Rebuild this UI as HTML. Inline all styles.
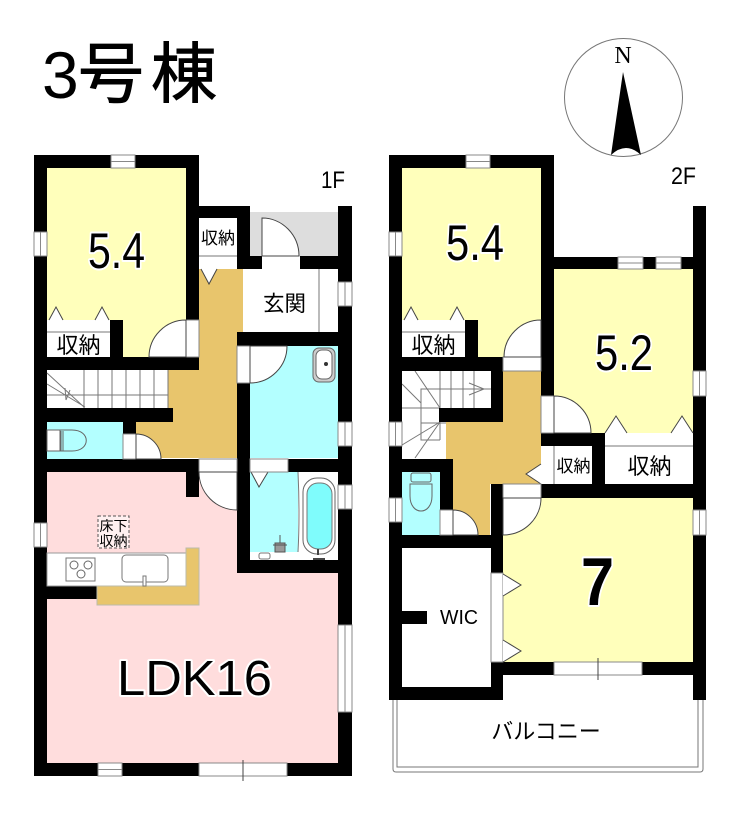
<!DOCTYPE html>
<html><head><meta charset="utf-8"><style>
html,body{margin:0;padding:0;background:#fff}
svg{display:block;filter:blur(.35px)}
.s{font-family:"Liberation Sans",sans-serif;fill:#000}
.j{font-family:"Liberation Sans","Noto Sans CJK JP",sans-serif;fill:#000}
.b{stroke:#000;stroke-width:.9}
.h{stroke:#fff;stroke-width:4;paint-order:stroke;stroke-linejoin:round}
.l{stroke:#777;stroke-width:1;fill:none}
.d{stroke:#444;stroke-width:1;fill:#fff}
.w{fill:#fff;stroke:#888;stroke-width:1}
</style></head><body>
<svg width="740" height="817" viewBox="0 0 740 817" xmlns="http://www.w3.org/2000/svg">
<rect width="740" height="817" fill="#fff"/>

<!-- title -->
<text class="s" x="42" y="98" font-size="66">3</text>
<text class="j b" x="78" y="97" font-size="66">号</text>
<text class="j b" x="151" y="97" font-size="66">棟</text>

<!-- compass -->
<circle cx="623.5" cy="97.5" r="59" fill="#fff" stroke="#777" stroke-width="1"/>
<text x="623" y="63" font-size="24" text-anchor="middle" font-family="Liberation Serif,serif">N</text>
<path d="M623 72L641 155Q626 141 611 155Z" fill="#000"/>

<!-- ===== 1F fills ===== -->
<rect x="47" y="168" width="139" height="189" fill="#ffffbb"/>
<rect x="250" y="212" width="88" height="44" fill="#ddd"/>
<path d="M199 269H243V346H237V458H136V422H168V370H199Z" fill="#e8c56c"/>
<rect x="250" y="346" width="88" height="112" fill="#b3ffff"/>
<rect x="47" y="422" width="76" height="37" fill="#b3ffff"/>
<path d="M47 472H338V763H47Z" fill="#ffdddd"/>
<rect x="250" y="472" width="48" height="80" fill="#b3ffff"/>
<rect x="298" y="472" width="40" height="88" fill="#fff"/>
<rect x="250" y="552" width="48" height="8" fill="#fff"/>

<!-- 1F bathtub -->
<rect x="303" y="478" width="32" height="76" rx="14" fill="#fff" stroke="#666"/>
<rect x="307" y="483" width="25" height="66" rx="11" fill="#7ffcfc" stroke="#777"/>
<path d="M275 543h10v9h-10zM273 545h14M280 535v8" stroke="#555" fill="#999"/>
<rect x="259" y="553" width="11" height="6" rx="2" fill="#fff" stroke="#777"/>
<path d="M318 549v6M313 559h12" stroke="#444" stroke-width="2"/>
<path d="M251 472L259 487L268 472" class="d"/>
<path d="M298 472Q300 515 298 552" class="l"/>

<!-- ===== 1F walls ===== -->
<g fill="#000">
<rect x="34" y="155" width="13" height="621"/>
<rect x="34" y="155" width="165" height="13"/>
<rect x="186" y="155" width="13" height="165"/>
<rect x="199" y="206" width="51" height="12"/>
<rect x="237" y="206" width="13" height="62"/>
<rect x="237" y="256" width="25" height="13"/>
<rect x="300" y="256" width="52" height="13"/>
<rect x="338" y="206" width="14" height="570"/>
<rect x="237" y="332" width="101" height="14"/>
<rect x="237" y="383" width="13" height="190"/>
<rect x="237" y="560" width="101" height="13"/>
<rect x="47" y="357" width="152" height="13"/>
<rect x="110" y="320" width="13" height="37"/>
<rect x="47" y="408" width="126" height="14"/>
<rect x="123" y="422" width="13" height="12"/>
<rect x="47" y="459" width="152" height="13"/>
<rect x="186" y="472" width="13" height="25"/>
<rect x="288" y="459" width="50" height="13"/>
<rect x="47" y="586" width="50" height="13"/>
<rect x="34" y="763" width="318" height="13"/>
</g>

<!-- 1F white rooms -->
<rect x="199" y="218" width="38" height="50" fill="#fff"/>
<line x1="199" y1="256" x2="237" y2="256" class="l"/>
<path d="M201 269L209 284L217 269" class="d"/>
<rect x="243" y="269" width="95" height="63" fill="#fff"/>
<line x1="319" y1="269" x2="319" y2="332" class="l"/>
<rect x="47" y="320" width="63" height="37" fill="#fff"/>
<line x1="47" y1="332" x2="110" y2="332" class="l"/>
<path d="M49 320L56 307L63 320M95 320L102 307L109 320" class="d"/>
<rect x="186" y="320" width="13" height="37" class="w"/>
<path d="M186 320A37 37 0 0 0 149 357H186Z" class="d"/>
<rect x="262" y="256" width="38" height="13" fill="#fff"/>
<path d="M262 218A37 38 0 0 1 299 256H262Z" class="d"/>
<rect x="237" y="346" width="13" height="37" class="w"/>
<path d="M250 346H287A37 37 0 0 1 250 383Z" class="d"/>
<rect x="123" y="434" width="13" height="25" class="w"/>
<path d="M136 434A25 25 0 0 1 161 459H136Z" class="d"/>
<rect x="199" y="459" width="38" height="13" class="w"/>
<path d="M199 472H237V510A38 38 0 0 1 199 472Z" class="d"/>
<rect x="250" y="459" width="38" height="13" class="w"/>

<!-- 1F stairs -->
<rect x="47" y="370" width="121" height="38" fill="#fff"/>
<g class="l">
<path d="M84 370V408M98 370V408M112 370V408M126 370V408M140 370V408M154 370V408M168 370V408"/>
<path d="M47 384L85 407M47 373L84 407M47 395H84M84 395H168M65 388L66 400L70 390"/>
</g>
<!-- 1F sink, toilet -->
<rect x="313" y="348" width="22" height="34" rx="6" fill="#ccc" stroke="#666"/>
<rect x="316" y="350" width="16" height="29" rx="6" fill="#fff" stroke="#666"/>
<circle cx="326" cy="364" r="2" fill="#333"/>
<path d="M47 430H60V451H47Z" fill="#fff" stroke="#666"/>
<path d="M60 430H72C91 430 91 451 72 451H60Z" fill="#b3ffff" stroke="#666"/>
<path d="M61 431V451M63 431V451" stroke="#666"/>

<!-- 1F kitchen -->
<rect x="47" y="553" width="139" height="33" fill="#fff" stroke="#999"/>
<path d="M186 548H199V605H97V586H186Z" fill="#e8c56c" stroke="#bba"/>
<rect x="66" y="558" width="29" height="23" fill="#fff" stroke="#777"/>
<circle cx="74" cy="565" r="4" fill="#fff" stroke="#666"/>
<circle cx="88" cy="565" r="4" fill="#fff" stroke="#666"/>
<circle cx="81" cy="574" r="4" fill="#fff" stroke="#666"/>
<rect x="122" y="555" width="46" height="27" rx="4" fill="#fff" stroke="#777"/>
<rect x="143" y="576" width="3" height="10" fill="#fff" stroke="#777"/>
<rect x="98" y="516" width="31" height="32" fill="#fff" fill-opacity=".55" stroke="#555" stroke-dasharray="3 2"/>
<text class="j" x="113.500" y="531" font-size="14" text-anchor="middle">床下</text>
<text class="j" x="113.500" y="546" font-size="14" text-anchor="middle">収納</text>

<!-- 1F windows -->
<g class="w">
<rect x="111" y="155" width="24" height="13"/><line x1="111" y1="161.500" x2="135" y2="161.500"/>
<rect x="34" y="232" width="13" height="24"/><line x1="40.500" y1="232" x2="40.500" y2="256"/>
<rect x="34" y="523" width="13" height="24"/><line x1="40.500" y1="523" x2="40.500" y2="547"/>
<rect x="338" y="282" width="14" height="24"/><line x1="345" y1="282" x2="345" y2="306"/>
<rect x="338" y="422" width="14" height="24"/><line x1="345" y1="422" x2="345" y2="446"/>
<rect x="338" y="485" width="14" height="24"/><line x1="345" y1="485" x2="345" y2="509"/>
<rect x="338" y="625" width="14" height="87"/><line x1="345" y1="625" x2="345" y2="712"/>
<rect x="98" y="763" width="24" height="13"/><line x1="98" y1="769.500" x2="122" y2="769.500"/>
<rect x="199" y="763" width="88" height="13"/><line x1="243" y1="760" x2="243" y2="781" stroke="#444"/>
</g>

<!-- 1F labels -->
<text class="s h" x="88" y="268" font-size="50" textLength="57" lengthAdjust="spacingAndGlyphs">5.4</text>
<text class="s h" x="117" y="695" font-size="49" textLength="155" lengthAdjust="spacingAndGlyphs">LDK16</text>
<text class="s" x="321" y="188" font-size="24" textLength="24" lengthAdjust="spacingAndGlyphs">1F</text>
<text class="j" x="284.500" y="311" font-size="21.500" text-anchor="middle">玄関</text>
<text class="j" x="218" y="244" font-size="17" text-anchor="middle">収納</text>
<text class="j" x="78.500" y="353" font-size="22" text-anchor="middle">収納</text>

<!-- ===== 2F fills ===== -->
<rect x="402" y="168" width="139" height="189" fill="#ffffbb"/>
<rect x="554" y="269" width="139" height="164" fill="#ffffbb"/>
<rect x="503" y="498" width="190" height="164" fill="#ffffbb"/>
<path d="M503 371H541V484H490V535H453V459H446V422H503Z" fill="#e8c56c"/>
<rect x="402" y="472" width="38" height="63" fill="#b3ffff"/>
<rect x="402" y="548" width="89" height="139" fill="#fff"/>

<!-- balcony -->
<path d="M393 700V769Q393 772 396 772H700Q703 772 703 769V700" fill="none" stroke="#777"/>
<path d="M397 700V767H698V700" fill="none" stroke="#777"/>

<!-- 2F stairs -->
<path d="M402 371H491V408H446V459H402Z" fill="#fff"/>
<g class="l">
<path d="M440 371V408M451 371V408M463 371V408M474 371V408M491 389H421V440H440"/>
<path d="M415 371L440 408M402 384L421 403M402 408H440M421 423H446M402 445L440 422M415 458L440 422M440 408V440"/>
<path d="M469 383L484 389L469 395"/>
</g>

<!-- ===== 2F walls ===== -->
<g fill="#000">
<rect x="389" y="155" width="13" height="545"/>
<rect x="389" y="155" width="165" height="13"/>
<rect x="541" y="155" width="13" height="241"/>
<rect x="554" y="257" width="139" height="12"/>
<rect x="693" y="206" width="13" height="494"/>
<rect x="465" y="320" width="13" height="37"/>
<rect x="402" y="357" width="101" height="14"/>
<rect x="491" y="357" width="12" height="65"/>
<rect x="439" y="408" width="64" height="14"/>
<rect x="541" y="433" width="64" height="13"/>
<rect x="592" y="433" width="13" height="51"/>
<rect x="402" y="459" width="51" height="13"/>
<rect x="440" y="459" width="13" height="51"/>
<rect x="402" y="535" width="101" height="13"/>
<rect x="491" y="484" width="12" height="89"/>
<rect x="541" y="484" width="165" height="14"/>
<rect x="491" y="662" width="215" height="13"/>
<rect x="491" y="662" width="12" height="38"/>
<rect x="389" y="687" width="114" height="13"/>
<rect x="402" y="611" width="25" height="13"/>
</g>

<!-- 2F white -->
<rect x="402" y="320" width="63" height="37" fill="#fff"/>
<line x1="402" y1="332" x2="465" y2="332" class="l"/>
<path d="M404 320L411 307L418 320M450 320L457 307L464 320" class="d"/>
<rect x="503" y="357" width="38" height="14" class="w"/>
<path d="M541 320A37 37 0 0 0 504 357H541Z" class="d"/>
<rect x="541" y="396" width="13" height="37" class="w"/>
<path d="M554 396A37 37 0 0 1 591 433H554Z" class="d"/>
<rect x="605" y="433" width="88" height="51" fill="#fff"/>
<line x1="605" y1="446" x2="693" y2="446" class="l"/>
<path d="M605 433L616 416L627 433M671 433L682 416L693 433" class="d"/>
<rect x="541" y="446" width="51" height="38" fill="#fff"/>
<line x1="554" y1="446" x2="554" y2="484" class="l"/>
<path d="M541 464L526 474L541 484" class="d"/>
<rect x="503" y="484" width="38" height="14" class="w"/>
<path d="M503 498H541A38 37 0 0 1 503 535Z" class="d"/>
<rect x="440" y="510" width="13" height="25" class="w"/>
<path d="M453 510A25 25 0 0 1 478 535H453Z" class="d"/>
<rect x="491" y="573" width="12" height="89" class="w"/>
<path d="M503 574L521 585L503 596M503 640L521 651L503 662" class="d"/>

<!-- 2F toilet -->
<rect x="411" y="473" width="20" height="9" rx="2" fill="#b3ffff" stroke="#666"/>
<path d="M410 484H432V496C432 516 410 516 410 496Z" fill="#b3ffff" stroke="#666"/>

<!-- 2F windows -->
<g class="w">
<rect x="466" y="155" width="24" height="13"/><line x1="466" y1="161.500" x2="490" y2="161.500"/>
<rect x="389" y="232" width="13" height="24"/><line x1="395.500" y1="232" x2="395.500" y2="256"/>
<rect x="389" y="422" width="13" height="24"/><line x1="395.500" y1="422" x2="395.500" y2="446"/>
<rect x="389" y="498" width="13" height="24"/><line x1="395.500" y1="498" x2="395.500" y2="522"/>
<rect x="618" y="257" width="25" height="12"/><line x1="618" y1="263" x2="643" y2="263"/>
<rect x="656" y="257" width="25" height="12"/><line x1="656" y1="263" x2="681" y2="263"/>
<rect x="693" y="371" width="13" height="25"/><line x1="699.500" y1="371" x2="699.500" y2="396"/>
<rect x="693" y="510" width="13" height="25"/><line x1="699.500" y1="510" x2="699.500" y2="535"/>
<rect x="554" y="662" width="88" height="13"/><line x1="598" y1="658" x2="598" y2="680" stroke="#444"/>
</g>

<!-- 2F labels -->
<text class="s h" x="446" y="260" font-size="50" textLength="58" lengthAdjust="spacingAndGlyphs">5.4</text>
<text class="s h" x="595" y="370" font-size="50" textLength="58" lengthAdjust="spacingAndGlyphs">5.2</text>
<text class="s h" x="581" y="605" font-size="68" font-weight="bold" textLength="33" lengthAdjust="spacingAndGlyphs">7</text>
<text class="s" x="671" y="184" font-size="24" textLength="25" lengthAdjust="spacingAndGlyphs">2F</text>
<text class="j" x="433.500" y="353" font-size="22" text-anchor="middle">収納</text>
<text class="j" x="573.500" y="472" font-size="17" text-anchor="middle">収納</text>
<text class="j" x="649.500" y="474" font-size="22" text-anchor="middle">収納</text>
<text class="s" x="440" y="624" font-size="20" textLength="38" lengthAdjust="spacingAndGlyphs">WIC</text>
<text class="j" x="546" y="739" font-size="22" text-anchor="middle">バルコニー</text>
</svg>
</body></html>
